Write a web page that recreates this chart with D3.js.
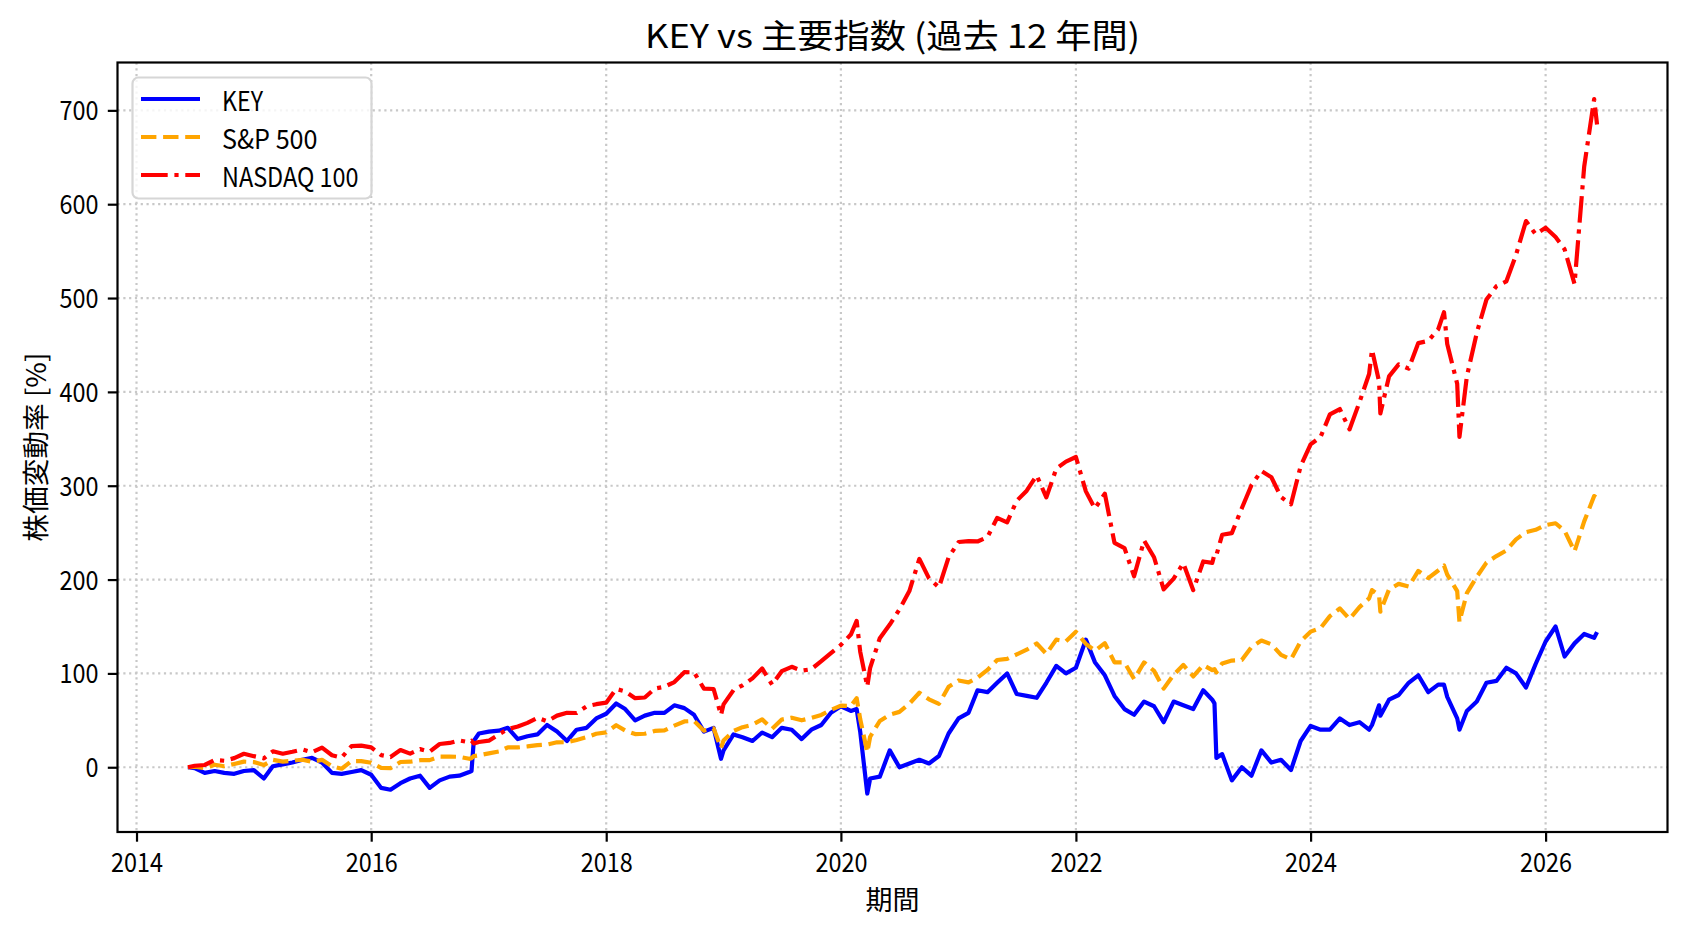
<!DOCTYPE html>
<html>
<head>
<meta charset="utf-8">
<script src="https://cdn.jsdelivr.net/npm/d3@7"></script>
<style>
  html, body { margin: 0; padding: 0; background: #fff; }
  svg text { font-family: "Noto Sans CJK JP", "Noto Sans", sans-serif; fill: #000; }
</style>
</head>
<body>
<svg id="chart" width="1688" height="932"></svg>
<script>
// values (% change since first day)
var dates = [
  "2014-06-10","2014-07-01","2014-08-01","2014-09-01","2014-10-01","2014-11-01","2014-12-01",
  "2015-01-01","2015-02-01","2015-03-01","2015-04-01","2015-05-01","2015-06-01","2015-07-01","2015-08-01","2015-09-01","2015-10-01","2015-11-01","2015-12-01",
  "2016-01-01","2016-02-01","2016-03-01","2016-04-01","2016-05-01","2016-06-01","2016-07-01","2016-08-01","2016-09-01","2016-10-01","2016-11-01","2016-11-08","2016-11-15","2016-12-01",
  "2017-01-01","2017-02-01","2017-03-01","2017-04-01","2017-05-01","2017-06-01","2017-07-01","2017-08-01","2017-09-01","2017-10-01","2017-11-01","2017-12-01",
  "2018-01-01","2018-02-01","2018-03-01","2018-04-01","2018-05-01","2018-06-01","2018-07-01","2018-08-01","2018-09-01","2018-10-01","2018-11-01","2018-12-01","2018-12-24",
  "2019-01-01","2019-02-01","2019-03-01","2019-04-01","2019-05-01","2019-06-01","2019-07-01","2019-08-01","2019-09-01","2019-10-01","2019-11-01","2019-12-01",
  "2020-01-01","2020-02-01","2020-02-19","2020-03-01","2020-03-23","2020-04-01","2020-05-01","2020-06-01","2020-07-01","2020-08-01","2020-09-01","2020-10-01","2020-11-01","2020-12-01",
  "2021-01-01","2021-02-01","2021-03-01","2021-04-01","2021-05-01","2021-06-01","2021-07-01","2021-08-01","2021-09-01","2021-10-01","2021-11-01","2021-12-01",
  "2022-01-01","2022-02-01","2022-03-01","2022-04-01","2022-05-01","2022-06-01","2022-07-01","2022-08-01","2022-09-01","2022-10-01","2022-11-01","2022-12-01",
  "2023-01-01","2023-02-01","2023-03-01","2023-03-08","2023-03-14","2023-04-01","2023-05-01","2023-06-01","2023-07-01","2023-08-01","2023-09-01","2023-10-01","2023-11-01","2023-12-01",
  "2024-01-01","2024-02-01","2024-03-01","2024-04-01","2024-05-01","2024-06-01","2024-07-01","2024-07-10","2024-08-01","2024-08-05","2024-09-01","2024-10-01","2024-11-01","2024-12-01",
  "2025-01-01","2025-02-01","2025-02-19","2025-03-01","2025-04-01","2025-04-08","2025-05-01","2025-06-01","2025-07-01","2025-08-01","2025-09-01","2025-10-01","2025-11-01","2025-12-01",
  "2026-01-01","2026-02-01","2026-03-01","2026-04-01","2026-05-01","2026-06-01","2026-06-10"
];

var keyValues = [
  0,-1,-6,-4,-6,-7,-4,
  -3,-12,1,3,5,8,10,5,-6,-7,-5,-3,
  -8,-22,-24,-17,-12,-9,-22,-14,-10,-9,-5,-4,28,36,
  38,39,42,30,33,35,45,38,28,40,42,52,
  57,68,62,50,55,58,58,66,63,56,38,42,9,
  18,35,32,28,37,32,42,40,30,40,45,58,
  65,60,62,38,-28,-12,-10,18,0,4,8,4,12,36,
  52,58,82,80,90,100,78,76,74,90,108,100,
  106,136,112,98,76,62,56,70,65,48,70,66,
  62,82,72,68,10,14,-14,0,-9,18,5,8,-3,28,
  44,40,40,52,45,48,40,45,66,55,72,77,90,98,
  80,88,88,75,52,40,60,70,90,92,106,100,85,110,
  134,150,118,132,142,138,144
];

var spValues = [
  0,0.5,-1,2.7,1.1,3.5,6,
  5.5,2.3,7.9,6,6.9,8,5.8,7.9,1.1,-1.6,6.6,6.6,
  4.8,-0.6,-1,5.6,5.9,7.5,7.6,11.4,11.3,11.1,9,9.7,11.8,12.7,
  14.8,16.8,21.2,21.1,22.2,23.6,24.2,26.6,26.7,29.1,32,35.7,
  37.1,44.8,39.1,35.4,35.7,38.7,39.3,44.4,48.8,49.4,39,41.5,20.5,
  28.5,38.6,42.7,45.3,51,41,50.8,52.8,50,52.6,55.7,61,
  65.6,65.4,73.6,51.4,16,32.5,49.3,56,59,67.7,79.4,72.4,67.6,85.7,
  92.5,90.4,95.4,103.7,114.3,115.5,120.3,125.3,131.9,120.8,136,134.1,
  144.3,131.5,124.2,132.2,111.8,111.8,94,111.7,102.7,83.8,98.5,109.1,
  96.8,109,103.5,104.6,101,110.6,113.7,114.3,128,135,131,119.8,115,134.2,
  144.5,148.4,161,169.3,158,170.6,180,188.8,183,165.8,189.5,195.4,192.5,209.2,
  201.5,209.7,215,205.3,187.7,155,185.5,203,218,225,231,242.8,250.6,253,
  258,260,252,230,262,289,287
];

var ndxValues = [
  0,1.6,2.4,7.7,6.9,9.7,14.4,
  11.8,9.5,17,14.4,16.5,19,16,21,12.8,10.3,22.6,23,
  21.2,12.9,10.9,18.3,14.5,19.3,16.6,24.8,25.9,28.6,26.7,28.2,25.3,26.9,
  28.3,35,40.6,43.4,47.3,52.7,49,55,58,57.8,64.9,67.2,
  68.8,83.4,80.9,73.6,74.3,83.8,85.8,90.8,101.3,101.2,83.8,83.4,55.7,
  67,82.2,87.3,94.7,105.3,88,102.4,107,103,104.5,113,121.7,
  130.4,141.4,156,123.3,86,106,137.5,152,168,187.7,222,201.3,191.6,223.7,
  240,241,240.6,245.4,265.7,261,284,294.7,311,287.6,318.2,325.7,
  330.6,294,275.7,291.5,239,233.6,203.5,241.6,223.8,189.5,201,217.4,
  188.7,219.3,217.8,227,226,247.8,249.5,276,300.5,315.8,309,288,280.2,320.8,
  344,352,376,381.7,360,389,419,445,411,377,416.5,429.3,424.8,452,
  454.4,466.7,485,451,408.7,352,416.4,463,498.4,512.6,517.8,546,582,568,
  575,565,552,515,640,712,685
];

var seriesNames = ["KEY", "S&P 500", "NASDAQ 100"];
var seriesColors = ["#0000ff", "#ffa500", "#ff0000"];
var seriesDash = ["none", "15.4,6.7", "26.7,6.7,4.2,6.7"];

var xTickYears = [2014, 2016, 2018, 2020, 2022, 2024, 2026];
var yTicks = [0, 100, 200, 300, 400, 500, 600, 700];
var yLimits = [-69, 751];

var titleText = "KEY vs 主要指数 (過去 12 年間)";
var xLabelText = "期間";
var yLabelText = "株価変動率 [%]";

// plot box in pixels
var plotLeft = 117.5, plotRight = 1667.5, plotTop = 62.5, plotBottom = 832;

// fake the half-width / full-width metrics of the original font
function halfCount(s){
  var n = 0;
  for (var c of s){
    n += (c.charCodeAt(0) > 0x2000) ? 2 : 1;
  }
  return n;
}
function fitText(sel, em){
  sel.attr("textLength", function(){ return halfCount(this.textContent) * em / 2; })
     .attr("lengthAdjust", "spacingAndGlyphs");
}

var parse = d3.timeParse("%Y-%m-%d");
var times = dates.map(parse);

var t0 = times[0], t1 = times[times.length - 1];
var pad = (t1 - t0) * 0.05;

var x = d3.scaleTime()
  .domain([new Date(+t0 - pad), new Date(+t1 + pad)])
  .range([plotLeft, plotRight]);

var y = d3.scaleLinear()
  .domain(yLimits)
  .range([plotBottom, plotTop]);

var svg = d3.select("#chart");

svg.append("rect").attr("width", 1688).attr("height", 932).attr("fill", "#fff");

svg.append("defs").append("clipPath").attr("id", "plotClip")
  .append("rect")
  .attr("x", plotLeft).attr("y", plotTop)
  .attr("width", plotRight - plotLeft).attr("height", plotBottom - plotTop);

//grid
var grid = svg.append("g");
xTickYears.forEach(function(yr){
  var gxPos = x(new Date(yr, 0, 1));
  grid.append("line")
    .attr("x1", gxPos).attr("x2", gxPos).attr("y1", plotTop).attr("y2", plotBottom)
    .attr("stroke", "#c8c8c8").attr("stroke-width", 2.2)
    .attr("stroke-dasharray", "2.2,3.6");
});
yTicks.forEach(function(v){
  grid.append("line")
    .attr("x1", plotLeft).attr("x2", plotRight).attr("y1", y(v)).attr("y2", y(v))
    .attr("stroke", "#c8c8c8").attr("stroke-width", 2.2)
    .attr("stroke-dasharray", "2.2,3.6");
});

//lines
var allValues = [keyValues, spValues, ndxValues];
var line = d3.line()
  .x(function(d, i){ return x(times[i]); })
  .y(function(d){ return y(d); });

var lines = svg.append("g").attr("clip-path", "url(#plotClip)");
allValues.forEach(function(vals, k){
  lines.append("path")
    .datum(vals)
    .attr("d", line)
    .attr("fill", "none")
    .attr("stroke", seriesColors[k])
    .attr("stroke-width", 4.2)
    .attr("stroke-linejoin", "round")
    .attr("stroke-linecap", "butt")
    .attr("stroke-dasharray", seriesDash[k]);
});

//axes
var xAxis = d3.axisBottom(x)
  .tickValues(xTickYears.map(function(yr){ return new Date(yr, 0, 1); }))
  .tickFormat(d3.timeFormat("%Y"))
  .tickSize(9.7)
  .tickPadding(8);

var yAxis = d3.axisLeft(y)
  .tickValues(yTicks)
  .tickSize(9.7)
  .tickPadding(8);

var gx = svg.append("g").attr("transform", "translate(0," + plotBottom + ")").call(xAxis);
var gy = svg.append("g").attr("transform", "translate(" + plotLeft + ",0)").call(yAxis);

[gx, gy].forEach(function(g){
  g.select(".domain").remove();
  g.selectAll(".tick line").attr("stroke", "#000").attr("stroke-width", 2.2);
  g.selectAll(".tick text")
    .attr("font-family", "Noto Sans CJK JP")
    .style("font-size", "26px")
    .attr("fill", "#000");
});
gx.selectAll(".tick text").attr("dy", null).attr("y", 40);
gy.selectAll(".tick text").attr("dy", null).attr("y", 9.5).attr("x", -19);
fitText(gx.selectAll(".tick text"), 26);
fitText(gy.selectAll(".tick text"), 26);

//frame
svg.append("rect")
  .attr("x", plotLeft).attr("y", plotTop)
  .attr("width", plotRight - plotLeft).attr("height", plotBottom - plotTop)
  .attr("fill", "none").attr("stroke", "#000").attr("stroke-width", 2.2);

//labels
svg.append("text")
  .attr("x", (plotLeft + plotRight) / 2).attr("y", 34)
  .attr("text-anchor", "middle").attr("dominant-baseline", "central")
  .style("font-size", "33px")
  .text(titleText)
  .call(fitText, 33);

svg.append("text")
  .attr("x", (plotLeft + plotRight) / 2).attr("y", 898)
  .attr("text-anchor", "middle").attr("dominant-baseline", "central")
  .style("font-size", "27px")
  .text(xLabelText)
  .call(fitText, 27);

svg.append("text")
  .attr("transform", "translate(34," + ((plotTop + plotBottom) / 2) + ") rotate(-90)")
  .attr("text-anchor", "middle").attr("dominant-baseline", "central")
  .style("font-size", "27px")
  .text(yLabelText)
  .call(fitText, 27);

//legend
var legend = svg.append("g");
legend.append("rect")
  .attr("x", 132.5).attr("y", 77.5)
  .attr("width", 239).attr("height", 121)
  .attr("rx", 6).attr("ry", 6)
  .attr("fill", "#fff").attr("fill-opacity", 0.8)
  .attr("stroke", "#d6d6d6").attr("stroke-width", 2.2);

var rowY = [99, 137, 175];
seriesNames.forEach(function(name, k){
  legend.append("line")
    .attr("x1", 141).attr("x2", 200)
    .attr("y1", rowY[k]).attr("y2", rowY[k])
    .attr("stroke", seriesColors[k])
    .attr("stroke-width", 4.2)
    .attr("stroke-dasharray", seriesDash[k]);
  legend.append("text")
    .attr("x", 222).attr("y", rowY[k])
    .attr("dominant-baseline", "central")
    .style("font-size", "27px")
    .text(name)
    .call(fitText, 27.3);
});
</script>
</body>
</html>
